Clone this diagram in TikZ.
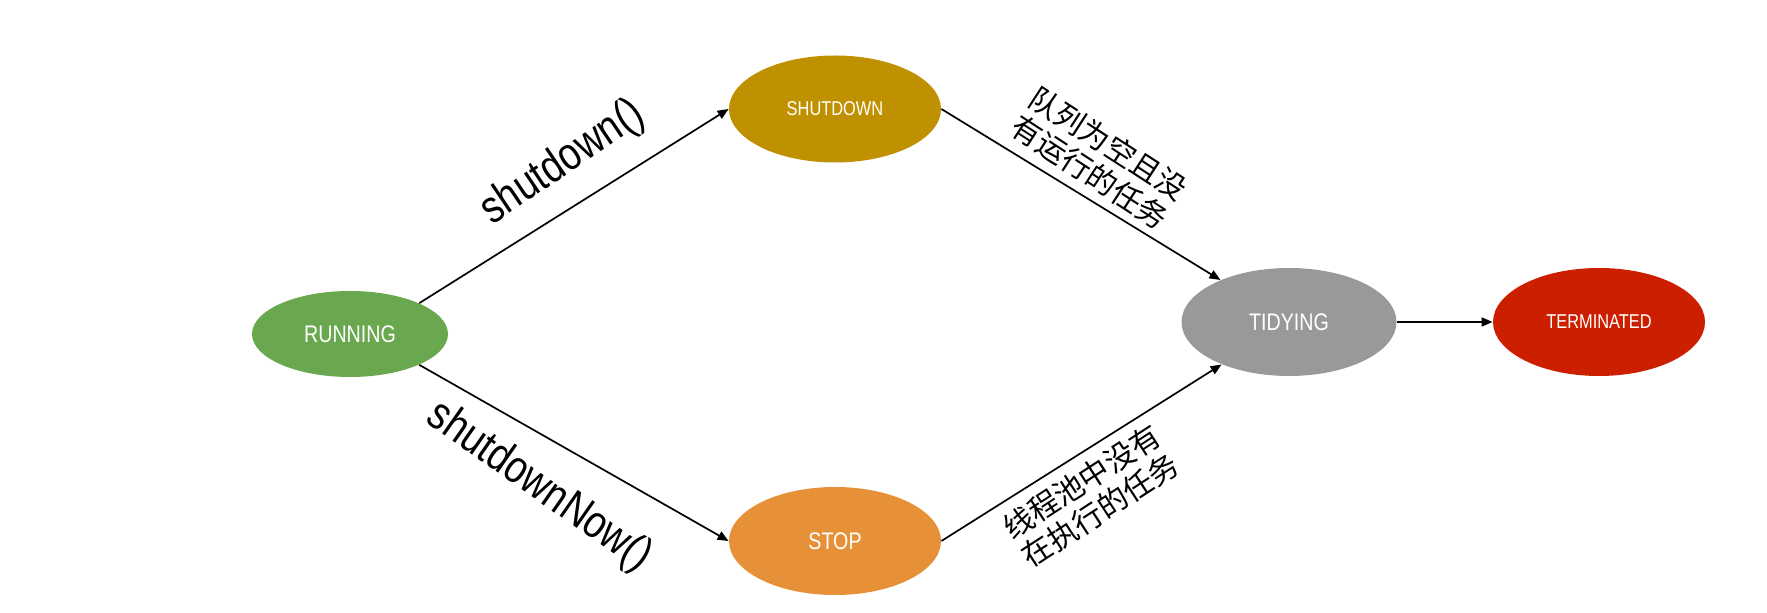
\documentclass[tikz,border=0pt]{standalone}
\usepackage{fontspec}
\usepackage{graphicx}
\setmainfont{Liberation Sans}
\newfontfamily\cjk{Noto Sans CJK SC}
\newcommand{\narr}[1]{\scalebox{0.82}[1]{#1}}
\usetikzlibrary{shapes.geometric,arrows.meta}
\definecolor{cRun}{HTML}{6AA84F}
\definecolor{cShut}{HTML}{BF9000}
\definecolor{cStop}{HTML}{E69138}
\definecolor{cTidy}{HTML}{999999}
\definecolor{cTerm}{HTML}{CC1F00}
\begin{document}
\begin{tikzpicture}[x=0.5pt,y=-0.5pt,
  state/.style={ellipse, inner sep=0pt, text=white, font=\fontsize{12}{14}\selectfont},
  small/.style={font=\fontsize{10}{12}\selectfont},
  arr/.style={-{Triangle[length=5.5pt,width=4.5pt]}, line width=0.85pt},
  lbl/.style={font=\fontsize{23}{27}\selectfont, inner sep=0pt},
  cjklbl/.style={font=\cjk\fontsize{15}{17}\selectfont, align=center, inner sep=0pt}]
\path[use as bounding box] (0,0) rectangle (1767,613);
\node[state, fill=cRun, minimum width=98pt, minimum height=43pt] (running) at (350,334) {\narr{RUNNING}};
\node[state, small, fill=cShut, minimum width=106pt, minimum height=53.5pt] (shutdown) at (835,109) {\narr{SHUTDOWN}};
\node[state, fill=cStop, minimum width=106pt, minimum height=54pt] (stop) at (835,541) {\narr{STOP}};
\node[state, fill=cTidy, minimum width=107.5pt, minimum height=54pt] (tidying) at (1289,322) {\narr{TIDYING}};
\node[state, small, fill=cTerm, minimum width=106pt, minimum height=54pt] (terminated) at (1599,322) {\narr{TERMINATED}};

\draw[arr] (running.24) -- (shutdown.west);
\draw[arr] (running.-24) -- (stop.west);
\draw[arr] (shutdown.east) -- (tidying);
\draw[arr] (stop.east) -- (tidying);
\draw[arr] (tidying.east) -- (terminated.west);

\node[lbl, rotate=34] (l1) at (563,163) {\narr{shutdown()}};
\node[lbl, rotate=-35] (l2) at (539,487) {\narr{shutdownNow()}};
\node[cjklbl, rotate=-33] (l3) at (1099,158) {队列为空且没\\有运行的任务};
\node[cjklbl, rotate=33] (l4) at (1091,496) {线程池中没有\\在执行的任务};
\end{tikzpicture}
\end{document}
